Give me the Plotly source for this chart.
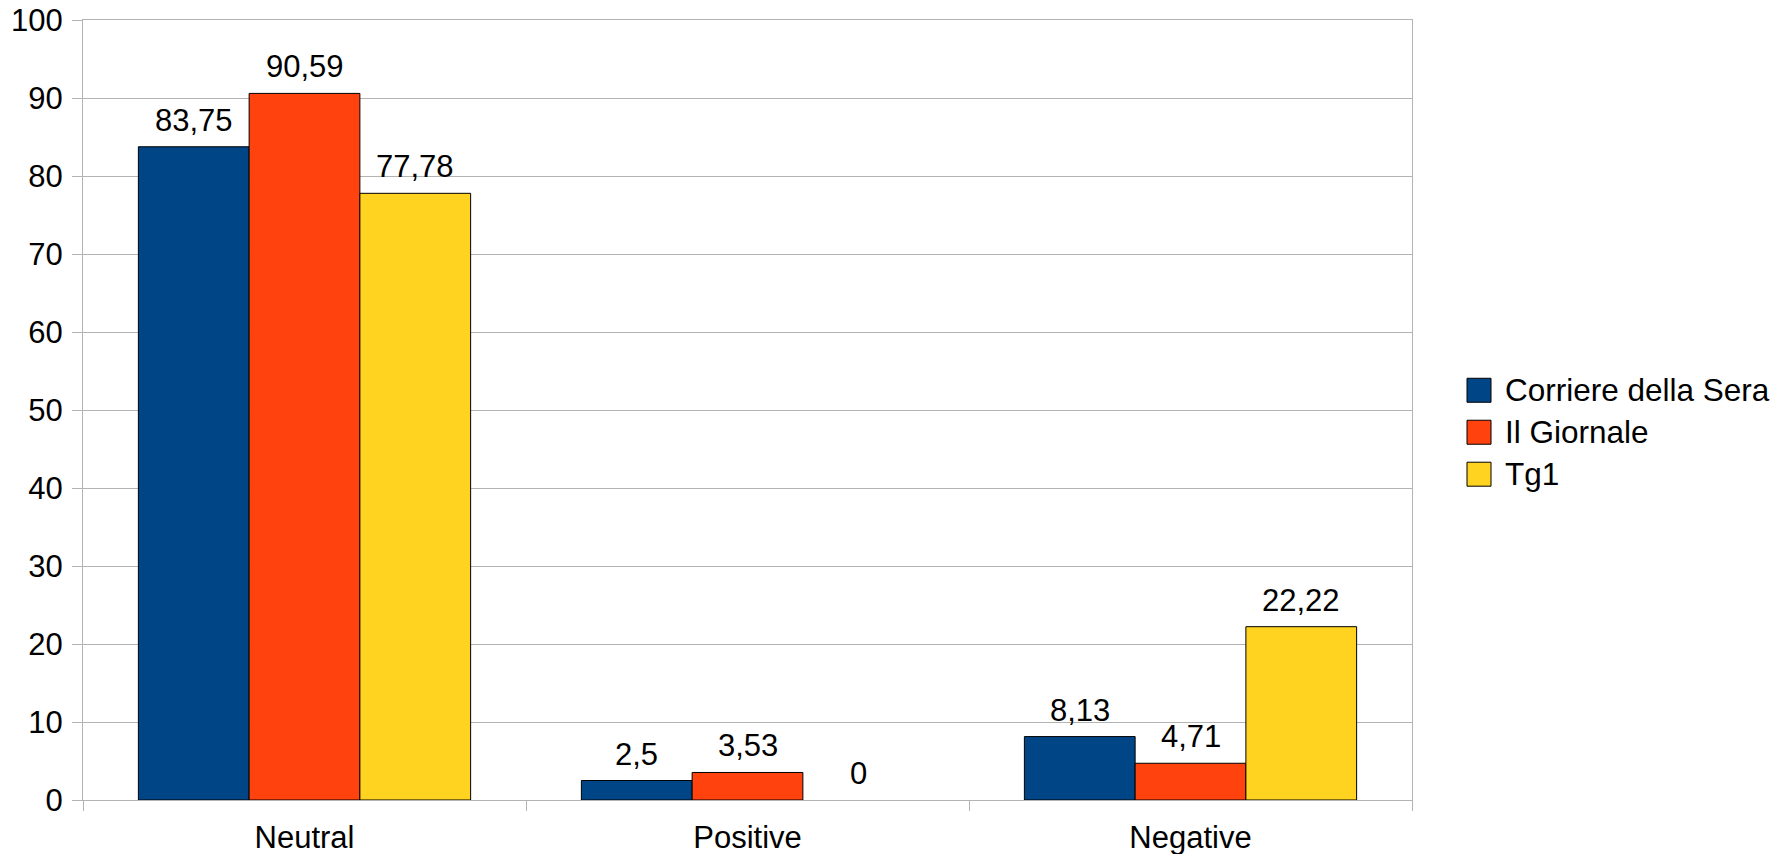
import plotly.graph_objects as go

categories = ["Neutral", "Positive", "Negative"]
series_names = ["Corriere della Sera", "Il Giornale", "Tg1"]
corriere = [83.75, 2.5, 8.13]
giornale = [90.59, 3.53, 4.71]
tg1 = [77.78, 0, 22.22]
y_ticks = list(range(0, 101, 10))

colors = ["#004586", "#ff420e", "#ffd320"]
values = [corriere, giornale, tg1]

W, H = 1785, 854
L, R, T, B = 83, 1412, 19.5, 800
FONT = "Liberation Sans, Arial, sans-serif"
BARGAP = 0.25

def fmt(v):
    return ("%g" % v).replace(".", ",")

fig = go.Figure()
for name, vals, col in zip(series_names, values, colors):
    fig.add_trace(go.Bar(
        x=categories, y=vals, name=name,
        marker=dict(color=col,
                    line=dict(color="#000000", width=[1 if v else 0 for v in vals])),
        showlegend=False,
    ))

# value labels above bars
cat_px = (R - L) / len(categories)
bar_px = cat_px * (1 - BARGAP) / len(series_names)
for i, (vals, name) in enumerate(zip(values, series_names)):
    dx = (i - (len(series_names) - 1) / 2) * bar_px
    for c, v in zip(categories, vals):
        fig.add_annotation(x=c, y=v, text=fmt(v), showarrow=False,
                           xanchor="center", yanchor="bottom",
                           xshift=dx, yshift=7,
                           font=dict(family=FONT, size=31, color="#000000"))

# custom legend
def px2paper_x(px):
    return (px - L) / (R - L)

def px2paper_y(py):
    return (B - py) / (B - T)

legend_centers = [390, 432, 474]
for name, col, cy in zip(series_names, colors, legend_centers):
    fig.add_shape(type="rect", xref="paper", yref="paper",
                  x0=px2paper_x(1467), x1=px2paper_x(1491),
                  y0=px2paper_y(cy + 12), y1=px2paper_y(cy - 12),
                  fillcolor=col, line=dict(color="#000000", width=1))
    fig.add_annotation(xref="paper", yref="paper", x=px2paper_x(1503), y=px2paper_y(cy),
                       text=name, showarrow=False, xanchor="left", yanchor="middle",
                       font=dict(family=FONT, size=31.5, color="#000000"))

fig.update_layout(
    width=W, height=H,
    margin=dict(l=L, r=W - R, t=T, b=H - B, pad=0, autoexpand=False),
    paper_bgcolor="#ffffff", plot_bgcolor="#ffffff",
    barmode="group", bargap=BARGAP, bargroupgap=0,
    font=dict(family=FONT, size=31, color="#000000"),
    showlegend=False,
)
fig.update_xaxes(
    type="category", tickson="boundaries", ticks="outside", ticklen=10,
    tickcolor="#b3b3b3", tickwidth=1, showgrid=False,
    showline=True, linecolor="#b3b3b3", linewidth=1, mirror=True,
    ticklabelstandoff=10, automargin=False, ticklabeloverflow="allow",
    tickfont=dict(family=FONT, size=31, color="#000000"),
)
fig.update_yaxes(
    range=[0, 100], tickvals=y_ticks, ticks="outside", ticklen=10,
    tickcolor="#b3b3b3", tickwidth=1,
    showgrid=True, gridcolor="#b3b3b3", gridwidth=1,
    showline=True, linecolor="#b3b3b3", linewidth=1, mirror=True,
    zeroline=False, automargin=False, ticklabelstandoff=3,
    ticklabeloverflow="allow",
    tickfont=dict(family=FONT, size=31, color="#000000"),
)

fig.write_html("out.html",
               config={"displayModeBar": False},
               post_script="document.body.style.margin='0';document.body.style.overflow='hidden';")
